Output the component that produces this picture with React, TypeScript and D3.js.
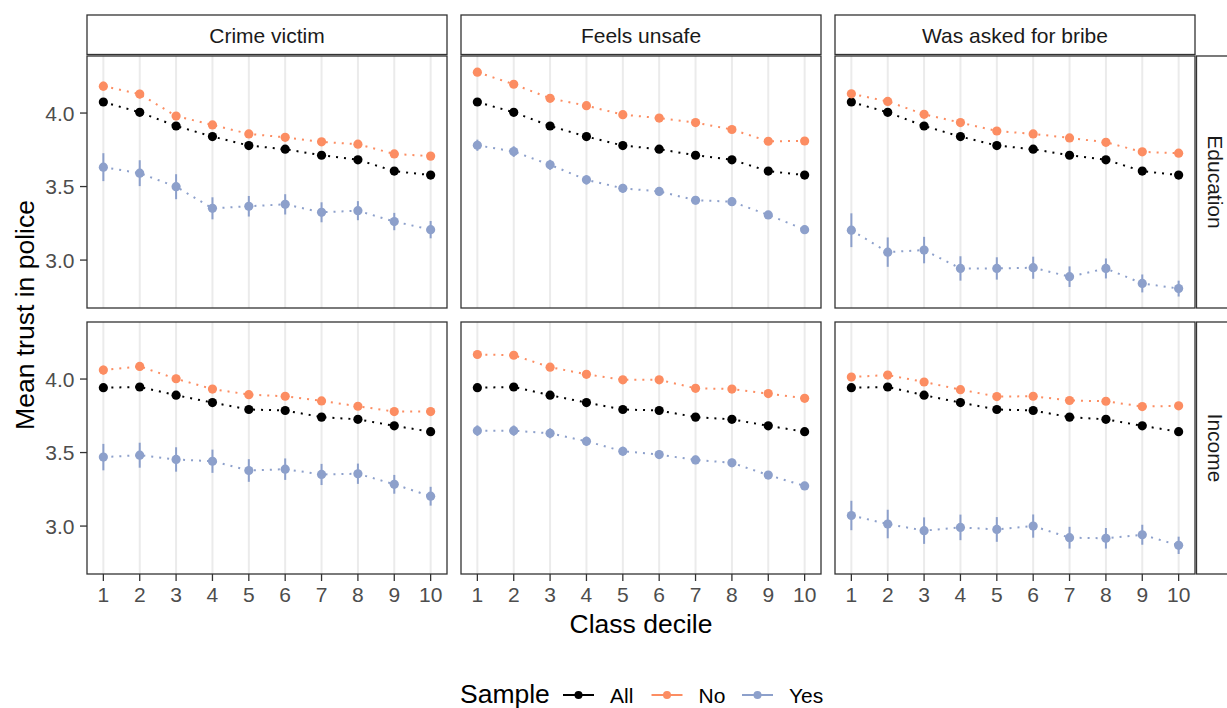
import React from 'react';
import * as d3 from 'd3';

// categories
const deciles = [1, 2, 3, 4, 5, 6, 7, 8, 9, 10];
const colLabels = ['Crime victim', 'Feels unsafe', 'Was asked for bribe'];
const rowLabels = ['Education', 'Income'];
const sampleLabels = ['All', 'No', 'Yes'];
const yTicks = [3.0, 3.5, 4.0];

// "All" sample (same in every column of a row)
const allEdu = [4.075, 4.005, 3.912, 3.840, 3.779, 3.754, 3.713, 3.682, 3.605, 3.578];
const allInc = [3.941, 3.946, 3.890, 3.840, 3.793, 3.786, 3.741, 3.726, 3.682, 3.642];
const allEduErr = [0.015, 0.014, 0.014, 0.013, 0.013, 0.013, 0.013, 0.012, 0.012, 0.012];
const allIncErr = [0.015, 0.014, 0.014, 0.013, 0.013, 0.013, 0.013, 0.012, 0.012, 0.012];

// Education row
const noCrimeEdu = [4.183, 4.129, 3.980, 3.919, 3.858, 3.835, 3.804, 3.788, 3.722, 3.707];
const yesCrimeEdu = [3.632, 3.591, 3.499, 3.352, 3.366, 3.379, 3.325, 3.336, 3.262, 3.207];
const noUnsafeEdu = [4.278, 4.196, 4.100, 4.050, 3.989, 3.966, 3.935, 3.888, 3.808, 3.810];
const yesUnsafeEdu = [3.781, 3.738, 3.648, 3.546, 3.488, 3.467, 3.407, 3.397, 3.307, 3.207];
const noBribeEdu = [4.131, 4.079, 3.991, 3.935, 3.878, 3.858, 3.831, 3.801, 3.736, 3.727];
const yesBribeEdu = [3.203, 3.054, 3.068, 2.943, 2.943, 2.948, 2.887, 2.943, 2.841, 2.806];

// Income row
const noCrimeInc = [4.061, 4.086, 4.002, 3.932, 3.894, 3.883, 3.851, 3.815, 3.779, 3.779];
const yesCrimeInc = [3.469, 3.482, 3.453, 3.441, 3.378, 3.387, 3.351, 3.356, 3.284, 3.203];
const noUnsafeInc = [4.167, 4.162, 4.081, 4.032, 3.995, 3.995, 3.937, 3.932, 3.901, 3.869];
const yesUnsafeInc = [3.649, 3.649, 3.631, 3.577, 3.509, 3.486, 3.450, 3.430, 3.347, 3.273];
const noBribeInc = [4.014, 4.027, 3.980, 3.928, 3.881, 3.883, 3.854, 3.849, 3.813, 3.818];
const yesBribeInc = [3.072, 3.014, 2.969, 2.991, 2.977, 3.000, 2.921, 2.917, 2.941, 2.869];

// half-widths of the intervals
const noCrimeErr = [0.030, 0.029, 0.027, 0.026, 0.025, 0.025, 0.024, 0.024, 0.023, 0.023];
const noUnsafeErr = [0.026, 0.025, 0.024, 0.023, 0.023, 0.022, 0.022, 0.022, 0.021, 0.021];
const noBribeErr = [0.025, 0.024, 0.023, 0.022, 0.022, 0.021, 0.021, 0.021, 0.020, 0.020];
const yesCrimeEduErr = [0.095, 0.088, 0.085, 0.075, 0.070, 0.069, 0.068, 0.065, 0.059, 0.059];
const yesUnsafeEduErr = [0.038, 0.036, 0.034, 0.032, 0.030, 0.030, 0.029, 0.028, 0.027, 0.027];
const yesBribeEduErr = [0.115, 0.100, 0.090, 0.083, 0.076, 0.075, 0.070, 0.068, 0.061, 0.054];
const yesCrimeIncErr = [0.090, 0.085, 0.083, 0.079, 0.077, 0.073, 0.072, 0.069, 0.064, 0.064];
const yesUnsafeIncErr = [0.036, 0.035, 0.034, 0.032, 0.031, 0.030, 0.029, 0.028, 0.027, 0.027];
const yesBribeIncErr = [0.100, 0.097, 0.090, 0.087, 0.084, 0.079, 0.074, 0.070, 0.068, 0.059];

const colors = { All: '#000000', No: '#FC8D62', Yes: '#8DA0CB' };
const font = '"Liberation Sans", Arial, Helvetica, sans-serif';

// panel table built from the arrays above: [row][col] -> series
const panels = [
  [
    [allEdu, allEduErr, noCrimeEdu, noCrimeErr, yesCrimeEdu, yesCrimeEduErr],
    [allEdu, allEduErr, noUnsafeEdu, noUnsafeErr, yesUnsafeEdu, yesUnsafeEduErr],
    [allEdu, allEduErr, noBribeEdu, noBribeErr, yesBribeEdu, yesBribeEduErr],
  ],
  [
    [allInc, allIncErr, noCrimeInc, noCrimeErr, yesCrimeInc, yesCrimeIncErr],
    [allInc, allIncErr, noUnsafeInc, noUnsafeErr, yesUnsafeInc, yesUnsafeIncErr],
    [allInc, allIncErr, noBribeInc, noBribeErr, yesBribeInc, yesBribeIncErr],
  ],
];

const App = () => {
  const width = 1227;
  const height = 708;

  // layout
  const panelLeft = [87, 461, 835];
  const panelTop = [56, 322];
  const panelW = 360;
  const panelH = 252;
  const stripTop = 15;
  const stripH = 39.5;

  const xScale = d3.scaleLinear().domain([0.55, 10.45]).range([0, panelW]);
  const yScale = d3.scaleLinear().domain([2.674, 4.388]).range([panelH, 0]);

  const linePlot = d3.line<number>()
    .x((d, i) => xScale(deciles[i]))
    .y(d => yScale(d));

  const renderPanel = (ri: number, ci: number) => {
    const p = panels[ri][ci];
    const series = sampleLabels.map((s, k) => ({ name: s, vals: p[k * 2], err: p[k * 2 + 1] }));
    const isBottom = ri === panels.length - 1;
    return (
      <g key={`${ri}-${ci}`} transform={`translate(${panelLeft[ci]},${panelTop[ri]})`}>
        <rect x={0} y={0} width={panelW} height={panelH} fill='white' />
        {deciles.map(d => (
          <line key={d} x1={xScale(d)} x2={xScale(d)} y1={0} y2={panelH} stroke='#EBEBEB' strokeWidth={2} />
        ))}
        {series.map(s => (
          <g key={s.name}>
            <path d={linePlot(s.vals) || ''} fill='none' stroke={colors[s.name]} strokeWidth={2} strokeDasharray='2 6' />
            {s.vals.map((v, i) => (
              <line key={i} x1={xScale(deciles[i])} x2={xScale(deciles[i])}
                y1={yScale(v - s.err[i])} y2={yScale(v + s.err[i])}
                stroke={colors[s.name]} strokeWidth={2} />
            ))}
            {s.vals.map((v, i) => (
              <circle key={i} cx={xScale(deciles[i])} cy={yScale(v)} r={4.6} fill={colors[s.name]} />
            ))}
          </g>
        ))}
        <rect x={0} y={0} width={panelW} height={panelH} fill='none' stroke='#333333' strokeWidth={1.3} />
        {/* y axis only on first column */}
        {ci === 0 && yTicks.map(t => (
          <g key={t} transform={`translate(0,${yScale(t)})`}>
            <line x1={-7} x2={0} stroke='#333333' strokeWidth={1.3} />
            <text x={-12.5} dy='0.36em' textAnchor='end' fontSize={21} fill='#4D4D4D' fontFamily={font}>{t.toFixed(1)}</text>
          </g>
        ))}
        {isBottom && deciles.map(d => (
          <g key={d} transform={`translate(${xScale(d)},${panelH})`}>
            <line y1={0} y2={7} stroke='#333333' strokeWidth={1.3} />
            <text y={27.5} textAnchor='middle' fontSize={21} fill='#4D4D4D' fontFamily={font}>{d}</text>
          </g>
        ))}
      </g>
    );
  };

  // legend positions
  const legendY = 695;
  const legendKeys = [563, 651.5, 742];

  return (
    <svg width={width} height={height} style={{ position: 'absolute', left: 0, top: 0, background: 'white' }}>
      <rect width={width} height={height} fill='white' />

      {/* column strips */}
      {colLabels.map((c, ci) => (
        <g key={c} transform={`translate(${panelLeft[ci]},${stripTop})`}>
          <rect x={0} y={0} width={panelW} height={stripH} fill='white' stroke='#333333' strokeWidth={1.3} />
          <text x={panelW / 2} y={28.3} textAnchor='middle' fontSize={21} fill='#1A1A1A' fontFamily={font}>{c}</text>
        </g>
      ))}

      {/* row strips */}
      {rowLabels.map((r, ri) => (
        <g key={r} transform={`translate(${panelLeft[2] + panelW + 1.5},${panelTop[ri]})`}>
          <rect x={0} y={0} width={stripH} height={panelH} fill='white' stroke='#333333' strokeWidth={1.3} />
          <text transform={`translate(${stripH / 2 - 7.8},${panelH / 2}) rotate(90)`} textAnchor='middle'
            fontSize={21} fill='#1A1A1A' fontFamily={font}>{r}</text>
        </g>
      ))}

      {panels.map((row, ri) => row.map((_, ci) => renderPanel(ri, ci)))}

      {/* axis titles */}
      <text x={(panelLeft[0] + panelLeft[2] + panelW) / 2} y={633} textAnchor='middle' fontSize={26.5} fill='black' fontFamily={font}>Class decile</text>
      <text transform={`translate(33.5,${(panelTop[0] + panelTop[1] + panelH) / 2}) rotate(-90)`} textAnchor='middle'
        fontSize={26.5} fill='black' fontFamily={font}>Mean trust in police</text>

      {/* legend */}
      <text x={460} y={703} fontSize={26.5} fill='black' fontFamily={font}>Sample</text>
      {sampleLabels.map((s, k) => (
        <g key={s} transform={`translate(${legendKeys[k]},${legendY})`}>
          <line x1={0} x2={31} stroke={colors[s]} strokeWidth={2} />
          <circle cx={15.5} cy={0} r={4} fill={colors[s]} />
          <text x={47} y={7.5} fontSize={21} fill='black' fontFamily={font}>{s}</text>
        </g>
      ))}
    </svg>
  );
};

export default App;
